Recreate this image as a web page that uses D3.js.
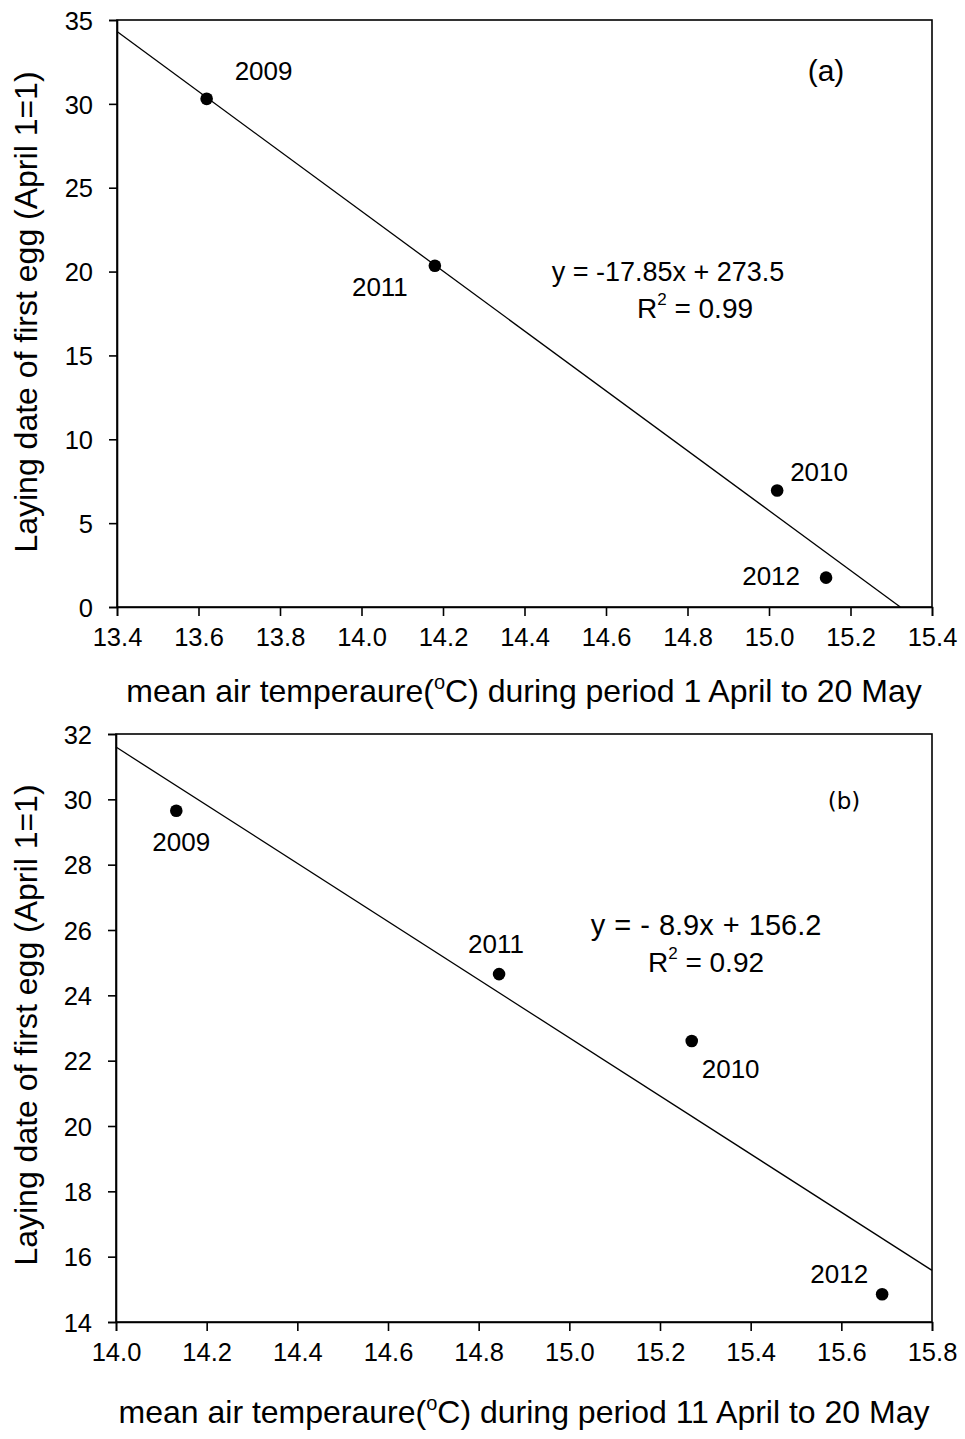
<!DOCTYPE html>
<html><head><meta charset="utf-8">
<script src="https://cdn.jsdelivr.net/npm/d3@7"></script>
<style>body{margin:0;background:#fff}svg text{font-family:"Liberation Sans",Arial,sans-serif;fill:#000}</style>
</head><body><svg id="c" width="965" height="1439"></svg>
<script>
// Panel (a)
const yearsA = ["2009","2011","2010","2012"];
const tempA = [13.62, 14.18, 15.02, 15.14];
const layA = [30.3, 20.35, 6.95, 1.75];
const fitA = {slope:-17.85, intercept:273.5};
const xTicksA = [13.4,13.6,13.8,14.0,14.2,14.4,14.6,14.8,15.0,15.2,15.4];
const yTicksA = [0,5,10,15,20,25,30,35];
// Panel (b)
const yearsB = ["2009","2011","2010","2012"];
const tempB = [14.133, 14.845, 15.27, 15.69];
const layB = [29.65, 24.65, 22.6, 14.85];
const fitB = {slope:-8.9, intercept:156.2};
const xTicksB = [14.0,14.2,14.4,14.6,14.8,15.0,15.2,15.4,15.6,15.8];
const yTicksB = [14,16,18,20,22,24,26,28,30,32];

const svg = d3.select("#c");

function panel(o){
  const g = svg.append("g");
  const x = d3.scaleLinear().domain(o.xd).range([o.l,o.r]);
  const y = d3.scaleLinear().domain(o.yd).range([o.b,o.t]);
  g.append("rect").attr("x",o.l).attr("y",o.t).attr("width",o.r-o.l).attr("height",o.b-o.t)
    .attr("fill","none").attr("stroke","#000").attr("stroke-width",1.6);
  const xa = g.append("g").attr("transform",`translate(0,${o.b})`)
    .call(d3.axisBottom(x).tickValues(o.xt).tickFormat(d3.format(".1f")).tickSize(9).tickPadding(12));
  const ya = g.append("g").attr("transform",`translate(${o.l},0)`)
    .call(d3.axisLeft(y).tickValues(o.yt).tickFormat(d3.format("d")).tickSize(8).tickPadding(16));
  [xa,ya].forEach(a=>{
    a.select(".domain").attr("stroke","#000").attr("stroke-width",1.6);
    a.selectAll(".tick line").attr("stroke","#000").attr("stroke-width",1.6);
    a.selectAll(".tick text").attr("font-size",25.5).attr("font-family","Liberation Sans, Arial, sans-serif").attr("fill","#000");
  });
  ya.selectAll(".tick text").attr("dy","0.36em");
  const f = d=>o.fit.slope*d+o.fit.intercept;
  const x0 = o.xd[0];
  let x1 = o.xd[1];
  if (f(x1) < o.yd[0]) x1 = (o.yd[0]-o.fit.intercept)/o.fit.slope;
  g.append("line").attr("x1",x(x0)).attr("y1",y(f(x0))).attr("x2",x(x1)).attr("y2",y(f(x1)))
    .attr("stroke","#000").attr("stroke-width",1.3);
  o.temp.forEach((t,i)=>{
    g.append("circle").attr("cx",x(t)).attr("cy",y(o.lay[i])).attr("r",6.3).attr("fill","#000");
    const lo = o.lab[i];
    g.append("text").attr("x",x(t)+lo[0]).attr("y",y(o.lay[i])+lo[1]).attr("text-anchor",lo[2])
      .attr("font-size",o.yrSize).text(o.years[i]);
  });
  g.append("text").attr("x",o.eq[0]).attr("y",o.eq[1]).attr("text-anchor","middle")
    .attr("font-size",o.eqSize).style("word-spacing",o.eqWs+"px").text(o.eqText);
  const r = g.append("text").attr("x",o.r2[0]).attr("y",o.r2[1]).attr("text-anchor","middle")
    .attr("font-size",28);
  r.append("tspan").text("R");
  r.append("tspan").attr("dy",-13).attr("font-size",17).text("2");
  r.append("tspan").attr("dy",13).text(" = "+o.r2Text);
  g.append("text").attr("x",o.pl[0]).attr("y",o.pl[1]).attr("text-anchor","middle")
    .attr("font-size",o.plSize).style("font-family",o.plFont).text(o.plText);
  const xt = g.append("text").attr("x",o.xtPos[0]).attr("y",o.xtPos[1]).attr("text-anchor","middle").attr("font-size",32);
  xt.append("tspan").text("mean air temperaure(");
  xt.append("tspan").attr("dy",-13).attr("font-size",20).text("o");
  xt.append("tspan").attr("dy",13).text("C) during period "+o.period);
  g.append("text").attr("transform",`translate(${o.ytPos[0]},${o.ytPos[1]}) rotate(-90)`)
    .attr("text-anchor","middle").attr("font-size",32).text("Laying date of first egg (April 1=1)");
}

panel({l:117,r:932,t:20,b:607,xd:[13.4,15.4],yd:[0,35],xt:xTicksA,yt:yTicksA,
  temp:tempA,lay:layA,years:yearsA,fit:fitA,yrSize:26,
  lab:[[28,-19,"start"],[-27,30,"end"],[13,-9,"start"],[-26,7,"end"]],
  eq:[668,281],eqSize:27,eqWs:0,eqText:"y = -17.85x + 273.5",r2:[695,318],r2Text:"0.99",
  pl:[826,81],plText:"(a)",plSize:30,plFont:"Liberation Sans, Arial, sans-serif",
  xtPos:[524,702],ytPos:[37,312],period:"1 April to 20 May"});

panel({l:116,r:932,t:734,b:1322,xd:[14.0,15.8],yd:[14,32],xt:xTicksB,yt:yTicksB,
  temp:tempB,lay:layB,years:yearsB,fit:fitB,yrSize:26,
  lab:[[5,40,"middle"],[-3,-21,"middle"],[10,37,"start"],[-14,-11,"end"]],
  eq:[706,935],eqSize:29,eqWs:1,eqText:"y = - 8.9x + 156.2",r2:[706,972],r2Text:"0.92",
  pl:[844,809],plText:"(b)",plSize:23,plFont:"DejaVu Sans, sans-serif",
  xtPos:[524,1423],ytPos:[37,1025],period:"11 April to 20 May"});
</script></body></html>
